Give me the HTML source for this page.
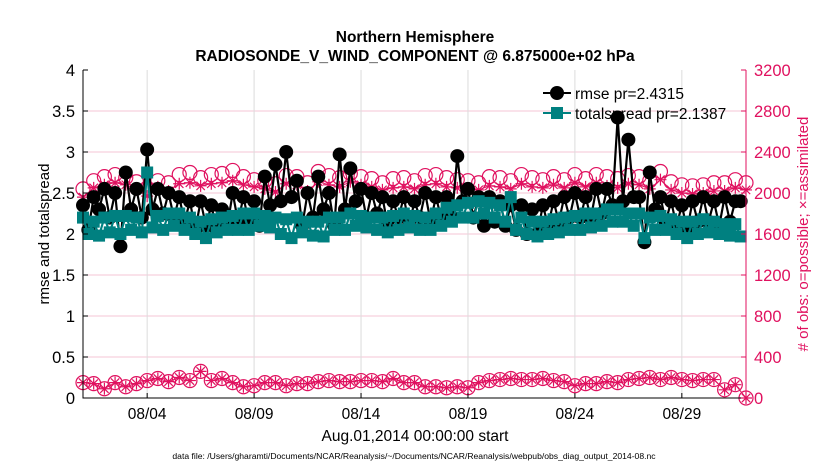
<!DOCTYPE html>
<html><head><meta charset="utf-8"><style>
body{margin:0;background:#fff;}
svg{font-family:"Liberation Sans",sans-serif;display:block}
</style></head><body>
<svg id="chart" width="830" height="470" viewBox="0 0 830 470">
<rect width="830" height="470" fill="#fff"/>
<text x="415" y="42" text-anchor="middle" font-size="15.5" font-weight="bold">Northern Hemisphere</text>
<text x="415" y="61" text-anchor="middle" font-size="15.5" font-weight="bold">RADIOSONDE_V_WIND_COMPONENT @ 6.875000e+02 hPa</text>
<g id="grid"></g>
<g id="series"></g>
<g id="axes"></g>
<text x="415" y="441" text-anchor="middle" font-size="15.5">Aug.01,2014 00:00:00 start</text>
<text x="414" y="459" text-anchor="middle" font-size="8.6">data file: /Users/gharamti/Documents/NCAR/Reanalysis/~/Documents/NCAR/Reanalysis/webpub/obs_diag_output_2014-08.nc</text>
<text transform="translate(49,234) rotate(-90)" text-anchor="middle" font-size="15">rmse and totalspread</text>
<text transform="translate(808,234) rotate(-90)" text-anchor="middle" font-size="15" fill="#e0115f"># of obs: o=possible; ×=assimilated</text>
<g id="legend"></g>
</svg>
<script>
const rmse=[2.35,2.05,2.45,2.3, 2.55,2.2,2.5,1.85, 2.75,2.3,2.55,2.2, 3.03,2.3,2.55,2.25, 2.5,2.2,2.45,2.15, 2.4,2.05,2.4,2.1, 2.35,2.05,2.3,2.1, 2.5,2.15,2.45,2.15, 2.4,2.1,2.7,2.35, 2.85,2.4,3.0,2.45, 2.65,2.1,2.5,2.2, 2.7,2.3,2.5,2.1, 2.97,2.3,2.8,2.4, 2.55,2.2,2.5,2.25, 2.45,2.1,2.4,2.2, 2.45,2.1,2.4,2.2, 2.5,2.15,2.45,2.2, 2.45,2.2,2.95,2.4, 2.55,2.2,2.45,2.1, 2.45,2.15,2.4,2.1, 2.35,2.05,2.35,2.0, 2.3,2.0,2.35,2.1, 2.4,2.15,2.45,2.2, 2.5,2.2,2.45,2.2, 2.55,2.25,2.55,2.35, 3.42,2.4,3.15,2.45, 2.45,1.9,2.75,2.3, 2.45,2.15,2.4,2.1, 2.35,2.05,2.4,2.15, 2.45,2.15,2.4,2.1, 2.45,2.15,2.4,2.4];
const spread=[2.2,2.0,2.15,1.98, 2.2,2.02,2.22,2.0, 2.22,2.05,2.2,2.02, 2.75,2.08,2.22,2.05, 2.25,2.1,2.25,2.05, 2.2,2.0,2.15,1.95, 2.18,2.02,2.2,2.05, 2.22,2.05,2.25,2.05, 2.25,2.1,2.22,2.08, 2.2,2.0,2.18,1.95, 2.2,2.02,2.15,1.98, 2.15,1.97,2.2,2.05, 2.2,2.05,2.25,2.1, 2.22,2.08,2.2,2.05, 2.2,2.02,2.22,2.05, 2.25,2.08,2.22,2.05, 2.2,2.05,2.25,2.1, 2.32,2.15,2.35,2.2, 2.38,2.2,2.4,2.25, 2.38,2.2,2.35,2.15, 2.45,2.05,2.2,2.0, 2.15,1.97,2.15,2.0, 2.18,2.02,2.2,2.05, 2.22,2.05,2.25,2.08, 2.25,2.1,2.3,2.15, 2.3,2.15,2.25,2.1, 2.25,1.95,2.2,2.05, 2.22,2.05,2.18,2.0, 2.15,1.95,2.15,2.0, 2.18,2.02,2.15,2.0, 2.12,1.98,2.12,1.97];
const obsPossible=[2040,2120,2160,2180,2150,2110,2050,2120,2100,2180,2200,2150,2180,2190,2220,2160,2130,2120,2090,2170,2160,2100,2210,2170,2150,2190,2160,2140,2100,2140,2150,2120,2170,2180,2150,2130,2120,2100,2160,2150,2120,2180,2150,2130,2160,2130,2180,2140,2180,2160,2140,2170,2160,2120,2210,2110,2080,2070,2080,2100,2100,2130,2100];
const obsAssim=[1960,2050,2080,2100,2080,2030,1970,2060,2020,2090,2100,2070,2090,2100,2120,2080,2060,2040,2010,2090,2080,2020,2110,2080,2060,2110,2080,2060,2030,2050,2060,2040,2080,2090,2060,2050,2040,2030,2070,2060,2040,2090,2060,2050,2080,2050,2100,2060,2100,2070,2050,2090,2080,2040,2130,2030,2000,1990,2000,2020,2020,2050,2030];
const obsLowPossible=[150,140,90,150,110,140,170,190,160,200,170,260,170,190,150,110,120,150,150,120,140,140,160,170,160,160,170,170,160,190,150,150,110,110,100,110,100,150,170,180,190,180,180,190,170,160,120,140,140,160,150,180,190,200,180,200,180,170,180,180,80,130,0];
const xTickLabels=["08/04","08/09","08/14","08/19","08/24","08/29"];
const xTickDays=[3,8,13,18,23,28];
const yLeftTicks=[0,0.5,1,1.5,2,2.5,3,3.5,4];
const yRightTicks=[0,400,800,1200,1600,2000,2400,2800,3200];

const NS="http://www.w3.org/2000/svg";
const L=83,R=746,T=70,B=398,DAYS=31;
const xs=d=>L+(d/DAYS)*(R-L);
const yl=v=>B-(v/4)*(B-T);
const yr=v=>B-(v/3200)*(B-T);
const PINK="#e0115f",TEAL="#008080";
function mk(tag,attrs,parent){const e=document.createElementNS(NS,tag);for(const k in attrs)e.setAttribute(k,attrs[k]);parent.appendChild(e);return e;}
const grid=document.getElementById('grid'),ser=document.getElementById('series'),ax=document.getElementById('axes'),leg=document.getElementById('legend');

yLeftTicks.forEach(v=>{if(v>0&&v<4){const g=mk('line',{x1:L,x2:R,y1:yl(v),y2:yl(v),stroke:'#f4c6d6','stroke-width':1},grid);

}});
xTickDays.forEach(d=>{const g=mk('line',{x1:xs(d),x2:xs(d),y1:T,y2:B,stroke:'#dcdcdc','stroke-width':1},grid);

});

function pts(arr,step,scale){return arr.map((v,i)=>[xs(i*step),scale(v)]);}
function star(x,y,g){const s=6;let d=`M${x-s} ${y}H${x+s}M${x} ${y-s}V${y+s}M${x-s*0.7} ${y-s*0.7}L${x+s*0.7} ${y+s*0.7}M${x-s*0.7} ${y+s*0.7}L${x+s*0.7} ${y-s*0.7}`;const p=mk('path',{d:d,stroke:PINK,'stroke-width':1.2,fill:'none'},g);

}
function circ(x,y,g){const c=mk('circle',{cx:x,cy:y,r:7,stroke:PINK,'stroke-width':1.2,fill:'none'},g);

}
const gObs=mk('g',{},ser);


const pp=pts(obsPossible,0.5,yr), pa=pts(obsAssim,0.5,yr), pl=pts(obsLowPossible,0.5,yr);
const lineA=mk('polyline',{points:pa.map(p=>p.join(',')).join(' '),stroke:PINK,'stroke-width':1,fill:'none'},gObs);


const lineL=mk('polyline',{points:pl.map(p=>p.join(',')).join(' '),stroke:PINK,'stroke-width':1,fill:'none'},gObs);


pp.forEach(p=>circ(p[0],p[1],gObs));
pa.forEach(p=>star(p[0],p[1],gObs));
pl.forEach(p=>{circ(p[0],p[1],gObs);star(p[0],p[1],gObs);});

const gR=mk('g',{},ser);


const pr=pts(rmse,0.25,yl);
const lr=mk('polyline',{points:pr.map(p=>p.join(',')).join(' '),stroke:'#000','stroke-width':2.2,fill:'none'},gR);


pr.forEach(p=>{const c=mk('circle',{cx:p[0],cy:p[1],r:7,fill:'#000'},gR);

});
const gS=mk('g',{},ser);


const ps=pts(spread,0.25,yl);
const ls=mk('polyline',{points:ps.map(p=>p.join(',')).join(' '),stroke:TEAL,'stroke-width':2.2,fill:'none'},gS);


ps.forEach(p=>{const r=mk('rect',{x:p[0]-6,y:p[1]-6,width:12,height:12,fill:TEAL},gS);

});

const box=mk('path',{d:`M${L} ${T}V${B}H${R}`,stroke:'#000','stroke-width':1,fill:'none'},ax);


const rax=mk('line',{x1:R,x2:R,y1:T,y2:B,stroke:PINK,'stroke-width':1},ax);


yLeftTicks.forEach(v=>{const t=mk('text',{x:L-8,y:yl(v)+6,'text-anchor':'end','font-size':16.5},ax);t.textContent=v;


mk('line',{x1:L,x2:L+5,y1:yl(v),y2:yl(v),stroke:'#000'},ax);});
yRightTicks.forEach(v=>{const t=mk('text',{x:R+8,y:yr(v)+6,'font-size':16.5,fill:PINK},ax);t.textContent=v;


mk('line',{x1:R-5,x2:R,y1:yr(v),y2:yr(v),stroke:PINK},ax);});
xTickDays.forEach((d,i)=>{const t=mk('text',{x:xs(d),y:B+21,'text-anchor':'middle','font-size':15.5},ax);t.textContent=xTickLabels[i];


mk('line',{x1:xs(d),x2:xs(d),y1:B,y2:B-5,stroke:'#000'},ax);});

[["rmse pr=2.4315","#000",93,"c"],["totalspread pr=2.1387",TEAL,113,"s"]].forEach(e=>{
const g=mk('g',{},leg);


mk('line',{x1:543,x2:571,y1:e[2],y2:e[2],stroke:e[1],'stroke-width':2},g);
if(e[3]=="c")mk('circle',{cx:557,cy:e[2],r:7,fill:e[1]},g);else mk('rect',{x:551,y:e[2]-6,width:12,height:12,fill:e[1]},g);
const t=mk('text',{x:575,y:e[2]+6,'font-size':15.5},g);t.textContent=e[0];});
</script>
</body></html>
